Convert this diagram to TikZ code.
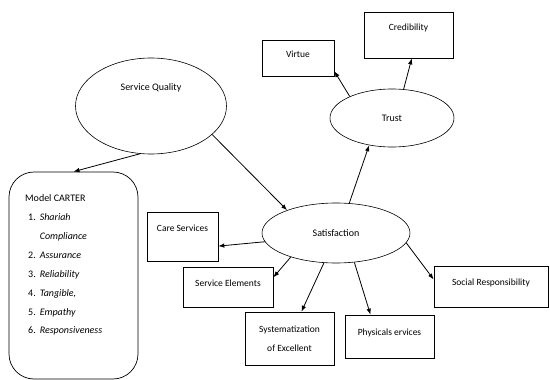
\documentclass[tikz,border=0pt]{standalone}
\usepackage{fontspec}
\setmainfont{Carlito}
\usepackage{tikz}
\usetikzlibrary{shapes.geometric, arrows.meta, positioning}

\begin{document}
\begin{tikzpicture}[
    x=1pt, y=-1pt,
    oval/.style={draw, ellipse, line width=0.6pt, inner sep=0pt, font=\normalsize},
    factor/.style={draw, rectangle, line width=0.7pt, inner sep=2pt, font=\fontsize{9.5}{11.5}\selectfont, align=center},
    arrow/.style={-{Latex[length=6pt,width=4.5pt]}, line width=0.8pt}
]
    \useasboundingbox (0,0) rectangle (550,380);

    % Ellipses
    \node[oval, minimum width=151pt, minimum height=96pt, text depth=38pt] (quality) at (151,106) {Service Quality};
    \node[oval, minimum width=148pt, minimum height=60pt] (satisfaction) at (336,233) {Satisfaction};
    \node[oval, minimum width=124pt, minimum height=58pt] (trust) at (392,118) {Trust};

    % Model box
    \node[draw, line width=0.7pt, rounded corners=25pt, minimum width=129pt, minimum height=207pt] (carter) at (73.5,275.5) {};
    \node[anchor=base west, inner sep=0pt, font=\fontsize{10}{19}\selectfont] (carterlist) at (25,201) {%
        \begin{tabular}[t]{@{}l@{\hspace{4pt}}l@{}}
        \multicolumn{2}{@{}l}{Model CARTER}\\
        \hspace{3pt}1. & \textit{Shariah}\\
         & \textit{Compliance}\\
        \hspace{3pt}2. & \textit{Assurance}\\
        \hspace{3pt}3. & \textit{Reliability}\\
        \hspace{3pt}4. & \textit{Tangible,}\\
        \hspace{3pt}5. & \textit{Empathy}\\
        \hspace{3pt}6. & \textit{Responsiveness}
        \end{tabular}};

    % Factors
    \node[factor, minimum width=72pt, minimum height=36pt, text depth=8pt] (virtue) at (298,58) {Virtue};
    \node[factor, minimum width=89pt, minimum height=46pt, text depth=16pt] (credibility) at (408.5,35) {Credibility};
    \node[factor, minimum width=71pt, minimum height=49pt, text depth=16pt] (core) at (182.5,236.5) {Care Services};
    \node[factor, minimum width=90pt, minimum height=40pt, text depth=7pt] (elements) at (228,287) {Service Elements};
    \node[factor, minimum width=89pt, minimum height=53pt] (system) at (289.5,338.5) {Systematization\\[7pt]of Excellent};
    \node[factor, minimum width=89pt, minimum height=43pt, text depth=9pt] (physical) at (389.5,336.5) {Physicals ervices};
    \node[factor, minimum width=114pt, minimum height=41pt, text depth=9pt] (social) at (491,286.5) {Social Responsibility};

    % Arrows
    \draw[arrow] (quality.257) -- (carter.north);
    \draw[arrow] (quality.-25) -- (satisfaction.155);
    \draw[arrow] (satisfaction.66) -- (trust.230);
    \draw[arrow] (trust.153) -- (virtue.-20);
    \draw[arrow] (trust.68) -- (credibility.-82);
    \draw[arrow] (satisfaction.187) -- (core.-15);
    \draw[arrow] (satisfaction.208) -- (elements.12);
    \draw[arrow] (satisfaction.248) -- (system.66);
    \draw[arrow] (satisfaction.302) -- (physical.131);
    \draw[arrow] (satisfaction.-8) -- (social.173);
\end{tikzpicture}
\end{document}
